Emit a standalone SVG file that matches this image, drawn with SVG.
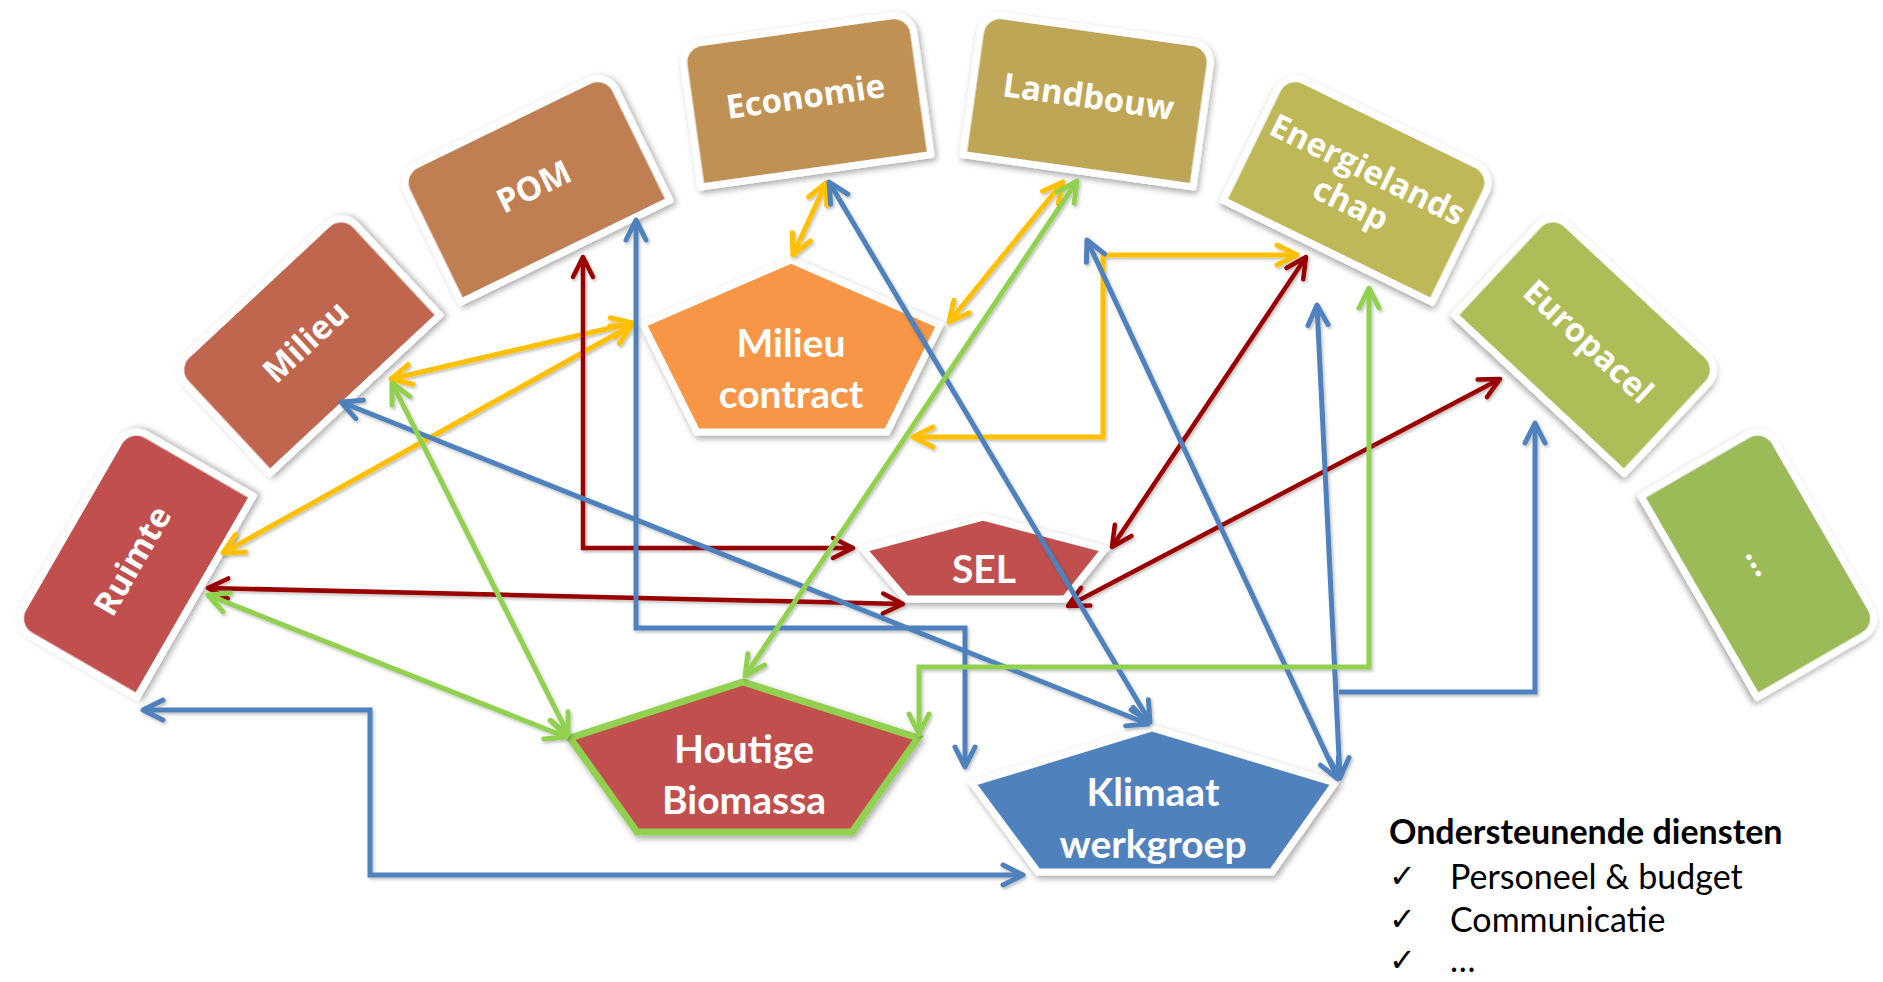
<svg xmlns="http://www.w3.org/2000/svg" width="1883" height="982" viewBox="0 0 1883 982">
<style>
.box{stroke:#fff;stroke-width:7;stroke-linejoin:round}
.bt{font-family:"Open Sans","DejaVu Sans",sans-serif;font-weight:700;font-size:33px;fill:#fff;text-anchor:middle}
.pt{font-family:Lato,"Liberation Sans",sans-serif;font-weight:700;font-size:39px;fill:#fff;text-anchor:middle}
.pent{stroke:#fff;stroke-width:7;stroke-linejoin:miter}
.c{fill:none;stroke-width:5;stroke-linejoin:miter}
.y{stroke:#FFC000;marker-start:url(#aY);marker-end:url(#aY)}
.r{stroke:#990000;stroke-width:4.5;marker-start:url(#aR);marker-end:url(#aR)}
.b{stroke:#4F81BD;marker-start:url(#aB);marker-end:url(#aB)}
.b1{stroke:#4F81BD;marker-end:url(#aB)}
.g{stroke:#92D050;marker-start:url(#aG);marker-end:url(#aG)}
.lg{font-family:Lato,"Liberation Sans",sans-serif;font-size:34px;fill:#000}
.ck{font-family:"DejaVu Sans",sans-serif;font-weight:700;font-size:32px;fill:#000}
</style>
<defs>
<filter id="sh" x="-20%" y="-20%" width="140%" height="140%">
<feDropShadow dx="2" dy="3" stdDeviation="3" flood-color="#000" flood-opacity="0.35"/>
</filter>
<filter id="lsh" x="-10%" y="-10%" width="120%" height="120%">
<feDropShadow dx="1.5" dy="2" stdDeviation="1.5" flood-color="#000" flood-opacity="0.25"/>
</filter>
<path id="box" d="M-116,71.5 V-51.5 A20,20 0 0 1 -96,-71.5 H96 A20,20 0 0 1 116,-51.5 V71.5 Z"/>
<marker id="aY" viewBox="-26 -16 32 32" refX="0" refY="0" markerWidth="32" markerHeight="32" markerUnits="userSpaceOnUse" orient="auto-start-reverse" overflow="visible"><path d="M-20,-10 L0,0 L-20,10" fill="none" stroke="#FFC000" stroke-width="5" stroke-linecap="round" stroke-linejoin="round"/></marker>
<marker id="aR" viewBox="-26 -16 32 32" refX="0" refY="0" markerWidth="32" markerHeight="32" markerUnits="userSpaceOnUse" orient="auto-start-reverse" overflow="visible"><path d="M-20,-10 L0,0 L-20,10" fill="none" stroke="#990000" stroke-width="4.5" stroke-linecap="round" stroke-linejoin="round"/></marker>
<marker id="aB" viewBox="-26 -16 32 32" refX="0" refY="0" markerWidth="32" markerHeight="32" markerUnits="userSpaceOnUse" orient="auto-start-reverse" overflow="visible"><path d="M-20,-10 L0,0 L-20,10" fill="none" stroke="#4F81BD" stroke-width="5" stroke-linecap="round" stroke-linejoin="round"/></marker>
<marker id="aG" viewBox="-26 -16 32 32" refX="0" refY="0" markerWidth="32" markerHeight="32" markerUnits="userSpaceOnUse" orient="auto-start-reverse" overflow="visible"><path d="M-20,-10 L0,0 L-20,10" fill="none" stroke="#92D050" stroke-width="5" stroke-linecap="round" stroke-linejoin="round"/></marker>
</defs>
<rect width="1883" height="982" fill="#fff"/>

<g id="ruimte" transform="translate(133,561) rotate(-60)">
<use href="#box" class="box" fill="#C0504D" filter="url(#sh)"/>
<text class="bt" x="0" y="11">Ruimte</text>
</g>
<g id="milieu" transform="translate(306,342) rotate(-43)">
<use href="#box" class="box" fill="#C0664F" filter="url(#sh)"/>
<text class="bt" x="0" y="11">Milieu</text>
</g>
<g id="pom" transform="translate(534,187) rotate(-26)">
<use href="#box" class="box" fill="#C07E52" filter="url(#sh)"/>
<text class="bt" x="0" y="11">POM</text>
</g>
<g id="economie" transform="translate(806,100) rotate(-8)">
<use href="#box" class="box" fill="#BF9152" filter="url(#sh)"/>
<text class="bt" x="0" y="8">Economie</text>
</g>
<g id="landbouw" transform="translate(1088,100) rotate(8)">
<use href="#box" class="box" fill="#BFA657" filter="url(#sh)"/>
<text class="bt" x="0" y="8">Landbouw</text>
</g>
<g id="energielandschap" transform="translate(1359,187) rotate(26)">
<use href="#box" class="box" fill="#BEB858" filter="url(#sh)"/>
<text class="bt" x="0" y="-8">Energielands</text>
<text class="bt" x="0" y="30">chap</text>
</g>
<g id="europacel" transform="translate(1588,342) rotate(43)">
<use href="#box" class="box" fill="#AEBD59" filter="url(#sh)"/>
<text class="bt" x="0" y="11">Europacel</text>
</g>
<g id="meer" transform="translate(1761,561) rotate(60)">
<use href="#box" class="box" fill="#9BBB59" filter="url(#sh)"/>
<text class="bt" x="0" y="11">…</text>
</g>

<g id="milieucontract">
<polygon class="pent" points="791,260 940,325 887,432 697,432 643,324" fill="#F79646" filter="url(#sh)"/>
<text class="pt" x="791" y="357">Milieu</text>
<text class="pt" x="791" y="408">contract</text>
</g>
<g id="sel">
<polygon class="pent" points="983,517 1105,549 1065,599 906,599 863,549" fill="#C0504D" filter="url(#sh)"/>
<text class="pt" x="984" y="583">SEL</text>
</g>
<g id="houtigebiomassa">
<polygon points="743,682 918,738 852,832 637,832 570,738" fill="#C0504D" stroke="#92D050" stroke-width="7" filter="url(#sh)"/>
<text class="pt" x="744" y="763">Houtige</text>
<text class="pt" x="744" y="814">Biomassa</text>
</g>
<g id="klimaatwerkgroep">
<polygon class="pent" points="1152,728 1335,783 1272,872 1038,872 972,783" fill="#4F81BD" filter="url(#sh)"/>
<text class="pt" x="1153" y="806">Klimaat</text>
<text class="pt" x="1153" y="858">werkgroep</text>
</g>

<g id="connectors" filter="url(#lsh)">
<path class="c y" d="M826,183 L793,255"/>
<path class="c y" d="M1063,182 L949,322"/>
<path class="c y" d="M391,379 L632,323"/>
<path class="c y" d="M223,553 L632,325"/>
<path class="c y" d="M913,437 H1103 V255 H1297"/>
<path class="c r" d="M583,257 V548 H853"/>
<path class="c r" d="M208,588 L903,604"/>
<path class="c r" d="M1306,257 L1112,547"/>
<path class="c r" d="M1500,379 L1068,606"/>
<path class="c b" d="M636,220 V628 H965 V767"/>
<path class="c b" d="M829,182 L1150,722"/>
<path class="c b" d="M341,402 L1148,724"/>
<path class="c b" d="M1087,240 L1338,779"/>
<path class="c b" d="M1317,305 L1340,778"/>
<path class="c b1" d="M1339,692 H1535 V423"/>
<path class="c b" d="M143,710 H370 V875 H1023"/>
<path class="c g" d="M392,383 L568,734"/>
<path class="c g" d="M208,595 L566,737"/>
<path class="c g" d="M1077,181 L745,676"/>
<path class="c g" d="M1369,288 V667 H919 V734"/>
</g>

<g id="ondersteunende">
<text class="lg" x="1389" y="844" font-weight="700" font-size="35">Ondersteunende diensten</text>
<text class="ck" x="1389" y="887">✓</text>
<text class="lg" x="1450" y="889">Personeel &amp; budget</text>
<text class="ck" x="1389" y="930">✓</text>
<text class="lg" x="1450" y="932">Communicatie</text>
<text class="ck" x="1389" y="971">✓</text>
<text class="lg" x="1450" y="972">…</text>
</g>
</svg>
